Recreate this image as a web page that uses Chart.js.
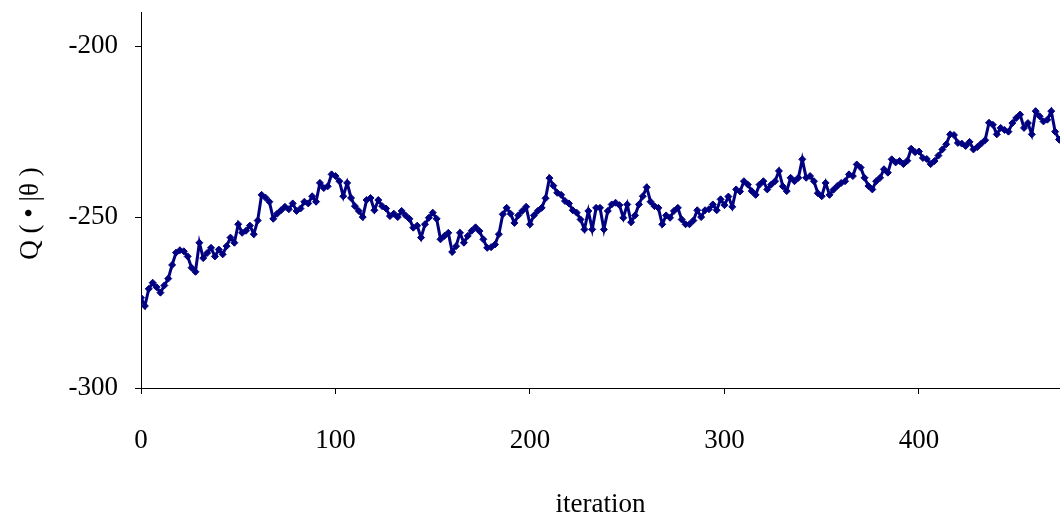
<!DOCTYPE html>
<html>
<head>
<meta charset="utf-8">
<script src="https://cdn.jsdelivr.net/npm/chart.js@4/dist/chart.umd.min.js"></script>
<style>
    body { margin: 0; background: #fff; }
    #chart { display: block; }
</style>
</head>
<body>
<canvas id="chart" width="1060" height="523"></canvas>
<script>
// Q value per iteration (read every 2 iterations)
const iterStep = 2;
const qValues = [
    -273.6, -276, -271, -269.2, -270.5, -272.1, -270, -268, -264, -260.4,
    -259.7, -260, -261.5, -264.8, -266, -257.5, -262, -260.5, -259, -261.5,
    -259.5, -260.9, -258.5, -256, -257.5, -252.1, -254.6, -254, -252.5, -255,
    -251, -243.5, -244.3, -245.5, -250.5, -249, -248, -247, -247.7, -246,
    -248.2, -247.5, -245.5, -246, -243.9, -245.5, -240, -241.5, -241, -237.5,
    -238, -239.5, -243.9, -240, -244.4, -246.8, -248.2, -250, -245, -244.4,
    -248, -245, -246.8, -247.5, -249.7, -249, -250, -248.2, -249.5, -250.5,
    -253.1, -252.5, -256, -252.1, -250.2, -248.7, -250.5, -256.5, -255.5, -254.6,
    -260.2, -258.5, -254.6, -257.5, -255.5, -254, -253, -254.1, -256.5, -259,
    -258.8, -258, -255, -249.2, -247.3, -249, -251.7, -249.5, -248.2, -247,
    -252.1, -249.5, -248.2, -247.3, -244.5, -238.6, -240.8, -242.9, -243.5, -245.3,
    -246, -248, -248.7, -250.7, -253.6, -248.2, -253.6, -247.3, -247.3, -253.6,
    -248.2, -246.3, -245.8, -246.5, -250.2, -246.3, -251.5, -249.5, -246.3, -243.9,
    -241.3, -245.5, -246.8, -247.3, -252.1, -249.5, -250.2, -248.2, -247.3, -250.7,
    -252.1, -252.1, -251, -248, -250, -248, -247.7, -246.3, -248, -244.8,
    -246.5, -244, -247, -241.9, -242.5, -239.5, -240.5, -242.4, -243.5, -240.5,
    -239.5, -241.9, -240.5, -239.5, -236.5, -241, -242.4, -238.5, -239.5, -238.5,
    -233.1, -238.5, -238, -239.5, -243, -243.9, -240, -243.5, -242, -240.9,
    -240, -239.5, -237.5, -238, -234.6, -235.5, -238.5, -240.9, -241.9, -239.5,
    -238.5, -236, -237, -233.1, -234, -233.6, -234.5, -233.5, -230, -231,
    -230.8, -232.7, -233, -234.5, -233.6, -232, -230.2, -228.7, -225.8, -226,
    -228.3, -228.5, -229.2, -228, -230.2, -229.5, -228.5, -227.5, -222.4, -223,
    -225.8, -223.9, -224.5, -225, -222.5, -221, -220, -223.9, -222.5, -225.8,
    -219, -220.5, -222, -221.5, -219, -225, -227.3, -228.3, -229
];

// axis ranges / ticks
const xRange = [0, 472.5];
const yRange = [-300, -190];
const xTickStep = 100;
const yTickStep = 50;

const lineColor = '#000080';
const axisFont = { family: '"Liberation Serif", "DejaVu Serif", serif', size: 27 };

const points = qValues.map((v, i) => ({ x: i * iterStep, y: v }));

// stop the scales from reserving room for edge labels
function noEdgePadding(s) {
    s.paddingTop = 0;
    s.paddingBottom = 0;
    s.paddingLeft = 0;
    s.paddingRight = 0;
}

new Chart(document.getElementById('chart'), {
    type: 'line',
    data: {
        datasets: [{
            data: points,
            borderColor: lineColor,
            backgroundColor: lineColor,
            borderWidth: 3,
            pointStyle: 'rectRot',
            pointRadius: 3.5,
            pointBorderWidth: 1,
            pointBorderColor: lineColor,
            pointBackgroundColor: lineColor,
            tension: 0
        }]
    },
    options: {
        responsive: false,
        animation: false,
        layout: { autoPadding: false, padding: { top: 12, right: 0, left: 0, bottom: 0 } },
        plugins: {
            legend: { display: false },
            tooltip: { enabled: false }
        },
        scales: {
            x: {
                type: 'linear',
                min: xRange[0],
                max: xRange[1],
                afterFit: s => { s.height = 135; noEdgePadding(s); },
                border: { color: '#000', width: 1 },
                grid: {
                    drawOnChartArea: false,
                    drawTicks: true,
                    tickLength: 6,
                    color: '#000'
                },
                ticks: {
                    stepSize: xTickStep,
                    includeBounds: false,
                    color: '#000',
                    font: axisFont,
                    padding: 31,
                    maxRotation: 0
                },
                title: {
                    display: true,
                    text: 'iteration',
                    color: '#000',
                    font: axisFont,
                    padding: { top: 0, bottom: 2 }
                }
            },
            y: {
                min: yRange[0],
                max: yRange[1],
                afterFit: s => { s.width = 141; noEdgePadding(s); },
                border: { color: '#000', width: 1 },
                grid: {
                    drawOnChartArea: false,
                    drawTicks: true,
                    tickLength: 6,
                    color: '#000'
                },
                ticks: {
                    stepSize: yTickStep,
                    includeBounds: false,
                    color: '#000',
                    font: axisFont,
                    padding: 17
                },
                title: {
                    display: true,
                    // trailing spaces nudge the rotated title down like the original
                    text: 'Q ( • |θ )\u00a0\u00a0\u00a0\u00a0',
                    color: '#000',
                    font: axisFont,
                    padding: { top: 15, bottom: 0 }
                }
            }
        }
    }
});
</script>
</body>
</html>
